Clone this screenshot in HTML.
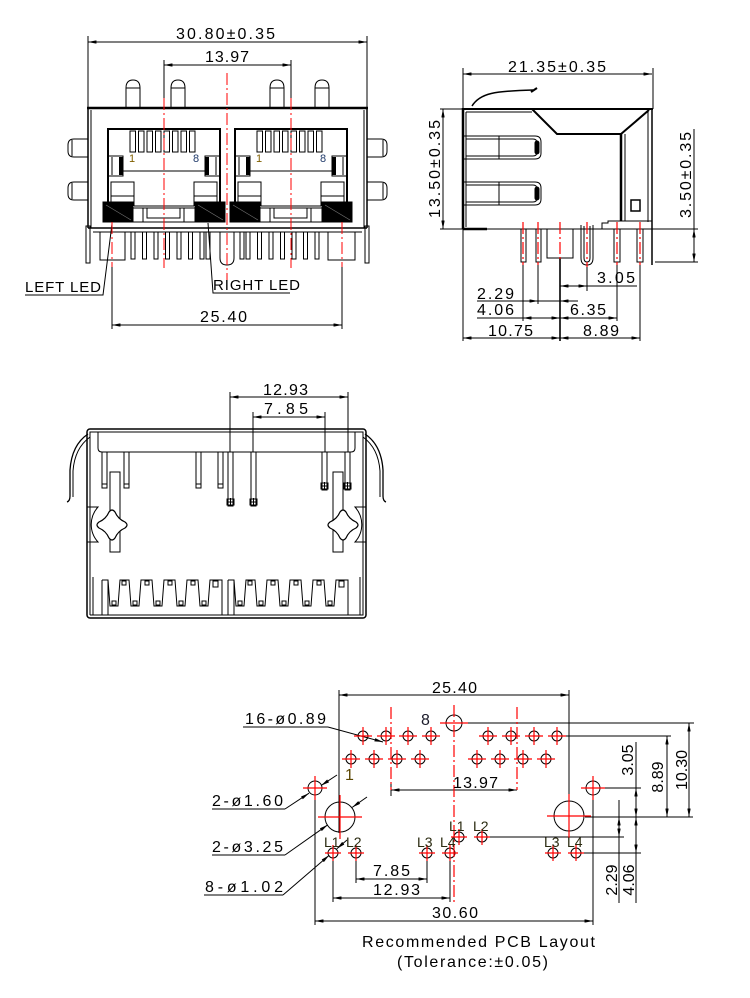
<!DOCTYPE html>
<html><head><meta charset="utf-8"><style>
html,body{margin:0;padding:0;background:#fff;}
svg{display:block;}
text{font-family:"Liberation Sans",sans-serif;fill:#000;font-size:16px;}
.r{stroke:#f00;stroke-dasharray:12 3 2 3;}
.rc{stroke:#f00;}
.sm{font-size:14px;fill:#2a2a10;}
.pn{font-size:11px;}
</style></head><body>
<svg width="750" height="998" viewBox="0 0 750 998" xmlns="http://www.w3.org/2000/svg">
<defs>
<marker id="a" viewBox="0 0 10 4" refX="10" refY="2" markerWidth="9" markerHeight="3.4" markerUnits="userSpaceOnUse" orient="auto-start-reverse"><path d="M0,0L10,2L0,4z" fill="#000"/></marker>
</defs>

<!-- ================= FRONT VIEW ================= -->
<g fill="none" stroke="#000" stroke-width="1">
<line x1="88" y1="42" x2="367" y2="42" marker-start="url(#a)" marker-end="url(#a)"/>
<line x1="88" y1="36" x2="88" y2="107"/>
<line x1="367" y1="36" x2="367" y2="107"/>
<line x1="164" y1="65" x2="291" y2="65" marker-start="url(#a)" marker-end="url(#a)"/>
<line x1="164" y1="60" x2="164" y2="98"/>
<line x1="291" y1="60" x2="291" y2="98"/>
<path d="M126,107V88Q126,80 133,80Q140,80 140,88V107M126,88H140"/>
<path d="M171,107V88Q171,80 178,80Q185,80 185,88V107M171,88H185"/>
<path d="M270,107V88Q270,80 277,80Q284,80 284,88V107M270,88H284"/>
<path d="M315,107V88Q315,80 322,80Q329,80 329,88V107M315,88H329"/>
<line x1="87" y1="108" x2="368" y2="108" stroke-width="2.5"/>
<line x1="88" y1="107" x2="88" y2="228" stroke-width="1.5"/>
<line x1="91" y1="110" x2="91" y2="228"/>
<line x1="367" y1="107" x2="367" y2="228" stroke-width="1.5"/>
<line x1="364" y1="110" x2="364" y2="228"/>
<line x1="88" y1="228" x2="367" y2="228" stroke-width="1.5"/>
<line x1="93" y1="232" x2="362" y2="232"/>
<rect x="86" y="226" width="4" height="37"/>
<rect x="365" y="226" width="4" height="37"/>
<path d="M88,139H74Q68,139 68,145V151Q68,157 74,157H88M72,140V156"/>
<path d="M88,182H74Q68,182 68,188V194Q68,200 74,200H88M72,183V199"/>
<path d="M367,139H381Q387,139 387,145V151Q387,157 381,157H367M383,140V156"/>
<path d="M367,182H381Q387,182 387,188V194Q387,200 381,200H367M383,183V199"/>
</g>

<g id="port" fill="none" stroke="#000" stroke-width="1">
<path d="M108,203V129H220V203" stroke-width="2"/>
<rect x="130" y="131" width="5.5" height="21"/>
<rect x="138.5" y="131" width="5.5" height="21"/>
<rect x="147" y="131" width="5.5" height="21"/>
<rect x="155.5" y="131" width="5.5" height="21"/>
<rect x="164" y="131" width="5.5" height="21"/>
<rect x="172.5" y="131" width="5.5" height="21"/>
<rect x="181" y="131" width="5.5" height="21"/>
<rect x="189.5" y="131" width="5.5" height="21"/>
<path d="M108,156H123V176H108M112,157V175"/>
<rect x="119" y="157" width="4" height="18" fill="#000" stroke="none"/>
<path d="M220,156H205V176H220M216,157V175"/>
<rect x="205" y="157" width="4" height="18" fill="#000" stroke="none"/>
<line x1="123" y1="171" x2="205" y2="171"/>
<path d="M111,202V182H134V206M111,196H134"/>
<path d="M217,202V182H194V206M194,196H217"/>
<line x1="134" y1="206" x2="194" y2="206"/>
<rect x="103" y="202" width="30" height="20" fill="#000"/>
<rect x="195" y="202" width="30" height="20" fill="#000"/>
<line x1="106" y1="205" x2="131" y2="220" stroke="#777" stroke-width="0.6"/>
<line x1="198" y1="205" x2="223" y2="220" stroke="#777" stroke-width="0.6"/>
<rect x="133" y="208" width="10" height="14"/>
<rect x="184" y="208" width="11" height="14"/>
<rect x="143" y="208" width="41" height="14"/>
<path d="M147,208V218H180V208"/>
</g>
<use href="#port" x="127"/>

<g fill="none" stroke="#000" stroke-width="1">
<rect x="100" y="232" width="25" height="28"/>
<rect x="131" y="232" width="4" height="27"/>
<rect x="142.5" y="232" width="4" height="27"/>
<rect x="154" y="232" width="4" height="27"/>
<rect x="165.5" y="232" width="4" height="27"/>
<rect x="177" y="232" width="4" height="27"/>
<rect x="188.5" y="232" width="4" height="27"/>
<rect x="200" y="232" width="4" height="27"/>
<rect x="206" y="232" width="4" height="27"/>
<path d="M220,232V258Q220,265 227,265Q234,265 234,258V232"/>
<rect x="240" y="232" width="4" height="27"/>
<rect x="246" y="232" width="4" height="27"/>
<rect x="257.5" y="232" width="4" height="27"/>
<rect x="269" y="232" width="4" height="27"/>
<rect x="280.5" y="232" width="4" height="27"/>
<rect x="292" y="232" width="4" height="27"/>
<rect x="303.5" y="232" width="4" height="27"/>
<rect x="315" y="232" width="4" height="27"/>
<rect x="328" y="232" width="27" height="28"/>
<line x1="112" y1="267" x2="112" y2="329"/>
<line x1="342" y1="267" x2="342" y2="329"/>
<line x1="112" y1="325" x2="342" y2="325" marker-start="url(#a)" marker-end="url(#a)"/>
<path d="M25,295H103L112,224"/>
<path d="M290,293H213L208,223"/>
</g>
<g fill="none" stroke-width="1">
<line class="r" x1="164" y1="98" x2="164" y2="268"/>
<line class="r" x1="291" y1="98" x2="291" y2="268"/>
<line class="r" x1="227" y1="73" x2="227" y2="280"/>
<line class="r" x1="112" y1="222" x2="112" y2="267"/>
<line class="r" x1="342" y1="222" x2="342" y2="267"/>
</g>
<text x="176" y="39" textLength="99">30.80±0.35</text>
<text x="205" y="62" textLength="44">13.97</text>
<text x="200" y="322" textLength="47">25.40</text>
<text x="25" y="292" style="font-size:15px" textLength="76">LEFT LED</text>
<text x="213" y="290" style="font-size:15px" textLength="87">RIGHT LED</text>
<text x="129" y="162" class="pn" style="fill:#806000">1</text>
<text x="193" y="162" class="pn" style="fill:#203a6a">8</text>
<text x="256" y="162" class="pn" style="fill:#806000">1</text>
<text x="320" y="162" class="pn" style="fill:#203a6a">8</text>

<!-- ================= SIDE VIEW ================= -->
<g fill="none" stroke="#000" stroke-width="1">
<line x1="463" y1="74" x2="652" y2="74" marker-start="url(#a)" marker-end="url(#a)"/>
<line x1="463" y1="68" x2="463" y2="109"/>
<line x1="653" y1="68" x2="653" y2="109"/>
<path d="M472,106C480,93 495,91 533,90" stroke-width="1.5"/>
<path d="M531,92L537,88" stroke-width="2"/>
<line x1="462" y1="109" x2="653" y2="109" stroke-width="2"/>
<line x1="463" y1="108" x2="463" y2="229" stroke-width="2.5"/>
<line x1="466" y1="112" x2="466" y2="227"/>
<line x1="466" y1="112" x2="532" y2="112"/>
<path d="M532,109L557,134H621L649,110" stroke-width="2"/>
<line x1="621" y1="134" x2="621" y2="221" stroke-width="2.5"/>
<line x1="625" y1="134" x2="625" y2="221"/>
<line x1="648" y1="110" x2="648" y2="222"/>
<line x1="652" y1="108" x2="652" y2="265" stroke-width="1.5"/>
<rect x="631" y="200" width="9" height="11" stroke-width="1.5"/>
<path d="M602,229V223H608V221H652"/>
<path d="M463,136H535Q541,136 541,142V153Q541,159 535,159H463"/>
<path d="M466,139H533Q537,139 537,143V152Q537,156 533,156H466"/>
<line x1="499" y1="136" x2="499" y2="159"/>
<rect x="535" y="141" width="4" height="13" rx="2" fill="#000"/>
<path d="M463,182H535Q541,182 541,188V199Q541,205 535,205H463"/>
<path d="M466,185H533Q537,185 537,189V198Q537,202 533,202H466"/>
<line x1="499" y1="182" x2="499" y2="205"/>
<rect x="535" y="187" width="4" height="13" rx="2" fill="#000"/>
<line x1="440" y1="229" x2="698" y2="229"/>
<line x1="463" y1="229" x2="487" y2="229" stroke-width="2.5"/>
<line x1="440" y1="109" x2="463" y2="109"/>
<line x1="655" y1="262" x2="698" y2="262"/>
<line x1="443" y1="109" x2="443" y2="229" marker-start="url(#a)" marker-end="url(#a)"/>
<line x1="694" y1="129" x2="694" y2="229"/>
<line x1="694" y1="229" x2="694" y2="262" marker-start="url(#a)" marker-end="url(#a)"/>
<rect x="521" y="229" width="5" height="33"/>
<rect x="536" y="229" width="5" height="33"/>
<rect x="547" y="229" width="26" height="29"/>
<path d="M581,225V258Q581,265 587,265Q593,265 593,258V225"/>
<path d="M584,226V258Q584,262 587,262Q590,262 590,258V226"/>
<rect x="614" y="229" width="6" height="33"/>
<rect x="637" y="229" width="6" height="33"/>
<line x1="523" y1="262" x2="523" y2="321"/>
<line x1="538" y1="262" x2="538" y2="304"/>
<line x1="560" y1="258" x2="560" y2="341" stroke-width="1.6"/>
<line x1="587" y1="265" x2="587" y2="291"/>
<line x1="617" y1="262" x2="617" y2="321"/>
<line x1="640" y1="262" x2="640" y2="341"/>
<line x1="463" y1="229" x2="463" y2="341"/>
<line x1="560" y1="286" x2="587" y2="286" marker-start="url(#a)" marker-end="url(#a)"/>
<line x1="587" y1="286" x2="637" y2="286"/>
<line x1="477" y1="301" x2="538" y2="301" marker-end="url(#a)"/>
<line x1="578" y1="301" x2="560" y2="301" marker-end="url(#a)"/>
<line x1="538" y1="301" x2="560" y2="301"/>
<line x1="477" y1="318" x2="523" y2="318"/>
<line x1="523" y1="318" x2="560" y2="318" marker-start="url(#a)" marker-end="url(#a)"/>
<line x1="560" y1="318" x2="617" y2="318" marker-start="url(#a)" marker-end="url(#a)"/>
<line x1="463" y1="338" x2="560" y2="338" marker-start="url(#a)" marker-end="url(#a)"/>
<line x1="560" y1="338" x2="640" y2="338" marker-start="url(#a)" marker-end="url(#a)"/>
</g>
<g fill="none" stroke-width="1.2">
<line class="r" x1="523" y1="222" x2="523" y2="265"/>
<line class="r" x1="538" y1="222" x2="538" y2="265"/>
<line class="r" x1="560" y1="222" x2="560" y2="262"/>
<line class="r" x1="587" y1="222" x2="587" y2="267"/>
<line class="r" x1="617" y1="222" x2="617" y2="265"/>
<line class="r" x1="640" y1="222" x2="640" y2="265"/>
</g>
<text x="508" y="72" textLength="98">21.35±0.35</text>
<text transform="translate(440,169) rotate(-90)" text-anchor="middle" textLength="98">13.50±0.35</text>
<text transform="translate(691,175) rotate(-90)" text-anchor="middle" textLength="86">3.50±0.35</text>
<text x="597" y="283" textLength="38">3.05</text>
<text x="477" y="299" textLength="37">2.29</text>
<text x="477" y="315" textLength="37">4.06</text>
<text x="570" y="315" textLength="36">6.35</text>
<text x="488" y="336" textLength="45">10.75</text>
<text x="583" y="336" textLength="36">8.89</text>

<!-- ================= BACK VIEW ================= -->
<g fill="none" stroke="#000" stroke-width="1">
<line x1="230" y1="397" x2="348" y2="397" marker-start="url(#a)" marker-end="url(#a)"/>
<line x1="253" y1="417" x2="325" y2="417" marker-start="url(#a)" marker-end="url(#a)"/>
<line x1="230" y1="392" x2="230" y2="452"/>
<line x1="348" y1="392" x2="348" y2="452"/>
<line x1="253" y1="412" x2="253" y2="452"/>
<line x1="325" y1="412" x2="325" y2="452"/>
<rect x="87" y="429" width="279" height="189" rx="3" stroke-width="1.5"/>
<path d="M90,615V432H363V615H90"/>
<path d="M98,432V448Q98,452 102,452H351Q355,452 355,448V432"/>
<path d="M88,434C76,442 71,455 70,470V496Q70,501 67,502" stroke-width="1.3"/>
<path d="M90,437C79,445 74,457 73,471V497" stroke-width="1"/>
<path d="M365,434C377,442 382,455 383,470V496Q383,501 386,502" stroke-width="1.3"/>
<path d="M363,437C374,445 379,457 380,471V497" stroke-width="1"/>
<path d="M102,452V488H107V452M102,484H107"/>
<path d="M124,452V488H129V452M124,484H129"/>
<path d="M196,452V488H201V452M196,484H201"/>
<path d="M218,452V488H223V452M218,484H223"/>
<path d="M228,452V506H233V452M227,499H234V505H227ZM227,502H234M230.5,498V506"/>
<path d="M251,452V506H256V452M250,499H257V505H250ZM250,502H257M253.5,498V506"/>
<path d="M322,452V490H327V452M321,483H328V489H321ZM321,486H328M324.5,482V490"/>
<path d="M345,452V490H350V452M344,483H351V489H344ZM344,486H351M347.5,482V490"/>
<rect x="110" y="472" width="10" height="80"/>
<rect x="333" y="472" width="10" height="80"/>
<path d="M87,507H98A26,26 0 0 0 98,542H87"/>
<path d="M366,507H355A26,26 0 0 1 355,542H366"/>
<path d="M99,522Q106,519 109,512Q112,508 115,512Q118,519 125,522Q129,525 125,528Q118,531 115,538Q112,542 109,538Q106,531 99,528Q95,525 99,522Z" fill="#fff" stroke-width="1.2"/>
<path d="M330,522Q337,519 340,512Q343,508 346,512Q349,519 356,522Q360,525 356,528Q349,531 346,538Q343,542 340,538Q337,531 330,528Q326,525 330,522Z" fill="#fff" stroke-width="1.2"/>
<line x1="93" y1="577" x2="93" y2="615"/>
<line x1="360" y1="577" x2="360" y2="615"/>
<path d="M102,615V580M108,615V580"/>
<path d="M102,580H108L110,606H118L120,580H129L131,606H139L141,580H152L154,606H162L164,580H175L177,606H185L187,580H198L200,606H208L210,580H222V615"/>
<path d="M228,615V580M234,615V580"/>
<path d="M228,580H234L236,606H244L246,580H255L257,606H265L267,580H278L280,606H288L290,580H301L303,606H311L313,580H324L326,606H334L336,580H348V615"/>
<path d="M122,581h4v4h-4zM145,581h4v4h-4zM168,581h4v4h-4zM191,581h4v4h-4zM213,581h5v6h-5zM112,601h4v4h-4zM133,601h4v4h-4zM156,601h4v4h-4zM179,601h4v4h-4zM202,601h4v4h-4z"/>
<path d="M248,581h4v4h-4zM271,581h4v4h-4zM294,581h4v4h-4zM317,581h4v4h-4zM339,581h5v6h-5zM238,601h4v4h-4zM259,601h4v4h-4zM282,601h4v4h-4zM305,601h4v4h-4zM328,601h4v4h-4z"/>
</g>
<text x="263" y="395" textLength="45">12.93</text>
<text x="264" y="414" textLength="44">7.85</text>

<!-- ================= PCB LAYOUT ================= -->
<g fill="none" stroke="#000" stroke-width="1">
<line x1="339" y1="695" x2="569" y2="695" marker-start="url(#a)" marker-end="url(#a)"/>
<line x1="339" y1="690" x2="339" y2="833"/>
<line x1="569" y1="690" x2="569" y2="833"/>
<line x1="315" y1="796" x2="315" y2="925"/>
<line x1="593" y1="796" x2="593" y2="925"/>
<line x1="315" y1="921" x2="593" y2="921" marker-start="url(#a)" marker-end="url(#a)"/>
<line x1="462" y1="723" x2="694" y2="723"/>
<line x1="566" y1="736" x2="671" y2="736"/>
<line x1="391" y1="790" x2="517" y2="790" marker-start="url(#a)" marker-end="url(#a)"/>
<line x1="391" y1="783" x2="391" y2="796"/>
<line x1="601" y1="788" x2="641" y2="788"/>
<line x1="585" y1="817" x2="693" y2="817"/>
<line x1="488" y1="837" x2="624" y2="837"/>
<line x1="582" y1="853" x2="641" y2="853"/>
<line x1="689" y1="723" x2="689" y2="817" marker-start="url(#a)" marker-end="url(#a)"/>
<line x1="667" y1="736" x2="667" y2="817" marker-start="url(#a)" marker-end="url(#a)"/>
<line x1="636" y1="742" x2="636" y2="788"/>
<line x1="636" y1="788" x2="636" y2="817" marker-start="url(#a)" marker-end="url(#a)"/>
<line x1="636" y1="817" x2="636" y2="853" marker-start="url(#a)" marker-end="url(#a)"/>
<line x1="636" y1="853" x2="636" y2="903"/>
<line x1="619" y1="800" x2="619" y2="817"/>
<line x1="619" y1="817" x2="619" y2="837" marker-start="url(#a)" marker-end="url(#a)"/>
<line x1="619" y1="837" x2="619" y2="903"/>
<line x1="333" y1="858" x2="333" y2="902"/>
<line x1="356" y1="858" x2="356" y2="883"/>
<line x1="427" y1="858" x2="427" y2="883"/>
<line x1="450" y1="858" x2="450" y2="902"/>
<line x1="356" y1="879" x2="427" y2="879" marker-start="url(#a)" marker-end="url(#a)"/>
<line x1="333" y1="898" x2="450" y2="898" marker-start="url(#a)" marker-end="url(#a)"/>
<line x1="243" y1="727" x2="328" y2="727"/>
<line x1="328" y1="727" x2="383" y2="742" marker-end="url(#a)"/>
<line x1="212" y1="809" x2="285" y2="809"/>
<line x1="285" y1="809" x2="309" y2="793.2" marker-end="url(#a)"/>
<line x1="337" y1="775" x2="321" y2="785.6" marker-end="url(#a)"/>
<line x1="212" y1="855" x2="285" y2="855"/>
<line x1="285" y1="855" x2="327.8" y2="824.8" marker-end="url(#a)"/>
<line x1="367" y1="797" x2="352.2" y2="807.4" marker-end="url(#a)"/>
<line x1="204" y1="895" x2="283" y2="895"/>
<line x1="283" y1="895" x2="329.2" y2="855.3" marker-end="url(#a)"/>
<line x1="347" y1="840" x2="336.8" y2="848.7" marker-end="url(#a)"/>
<circle cx="363" cy="736" r="5"/><circle cx="386" cy="736" r="5"/><circle cx="408" cy="736" r="5"/><circle cx="431" cy="736" r="5"/>
<circle cx="488" cy="736" r="5"/><circle cx="511" cy="736" r="5"/><circle cx="534" cy="736" r="5"/><circle cx="557" cy="736" r="5"/>
<circle cx="351" cy="759" r="5"/><circle cx="374" cy="759" r="5"/><circle cx="397" cy="759" r="5"/><circle cx="420" cy="759" r="5"/>
<circle cx="477" cy="759" r="5"/><circle cx="500" cy="759" r="5"/><circle cx="523" cy="759" r="5"/><circle cx="546" cy="759" r="5"/>
<circle cx="333" cy="853" r="5"/><circle cx="356" cy="853" r="5"/><circle cx="427" cy="853" r="5"/><circle cx="450" cy="853" r="5"/>
<circle cx="459" cy="837" r="5"/><circle cx="482" cy="837" r="5"/><circle cx="553" cy="853" r="5"/><circle cx="576" cy="853" r="5"/>
<circle cx="315" cy="788" r="7"/><circle cx="593" cy="788" r="7"/>
<circle cx="340" cy="817" r="15"/><circle cx="569" cy="816" r="15"/>
<circle cx="454" cy="723" r="8"/>
</g>
<g fill="none" stroke-width="1.2">
<path class="rc" d="M354,736H372M363,727V745M377,736H395M386,727V745M399,736H417M408,727V745M422,736H440M431,727V745M479,736H497M488,727V745M502,736H520M511,727V745M525,736H543M534,727V745M548,736H566M557,727V745"/>
<path class="rc" d="M342,759H360M351,750V768M365,759H383M374,750V768M388,759H406M397,750V768M411,759H429M420,750V768M468,759H486M477,750V768M491,759H509M500,750V768M514,759H532M523,750V768M537,759H555M546,750V768"/>
<path class="rc" d="M325,853H341M333,845V861M348,853H364M356,845V861M419,853H435M427,845V861M442,853H458M450,845V861M451,837H467M459,829V845M474,837H490M482,829V845M545,853H561M553,845V861M568,853H584M576,845V861"/>
<path class="rc" d="M303,788H327M315,776V800M581,788H605M593,776V800M318,817H362M340,795V839M547,816H591M569,794V838M440,723H468"/>
<line class="r" x1="454" y1="705" x2="454" y2="905"/>
<line class="r" x1="391" y1="707" x2="391" y2="790"/>
<line class="r" x1="517" y1="707" x2="517" y2="790"/>
</g>
<text x="432" y="693" textLength="45">25.40</text>
<text x="245" y="724" textLength="81">16-ø0.89</text>
<text x="421" y="725" style="fill:#1b1b2a">8</text>
<text x="345" y="780" style="fill:#5a4600">1</text>
<text x="453" y="788" textLength="45">13.97</text>
<text x="212" y="806" textLength="71">2-ø1.60</text>
<text x="212" y="852" textLength="71">2-ø3.25</text>
<text x="205" y="892" textLength="78">8-ø1.02</text>
<text x="373" y="876" textLength="37">7.85</text>
<text x="373" y="895" textLength="47">12.93</text>
<text x="432" y="918" textLength="46">30.60</text>
<text transform="translate(633,760) rotate(-90)" text-anchor="middle">3.05</text>
<text transform="translate(663,777) rotate(-90)" text-anchor="middle">8.89</text>
<text transform="translate(687,770) rotate(-90)" text-anchor="middle">10.30</text>
<text transform="translate(617,880) rotate(-90)" text-anchor="middle">2.29</text>
<text transform="translate(634,880) rotate(-90)" text-anchor="middle">4.06</text>
<text x="324" y="847" class="sm">L1</text>
<text x="346" y="847" class="sm">L2</text>
<text x="417" y="847" class="sm">L3</text>
<text x="440" y="847" class="sm">L4</text>
<text x="449" y="831" class="sm">L1</text>
<text x="473" y="831" class="sm">L2</text>
<text x="544" y="847" class="sm">L3</text>
<text x="567" y="847" class="sm">L4</text>
<text x="362" y="947" textLength="233">Recommended  PCB  Layout</text>
<text x="397" y="967" textLength="151">(Tolerance:±0.05)</text>
</svg>
</body></html>
